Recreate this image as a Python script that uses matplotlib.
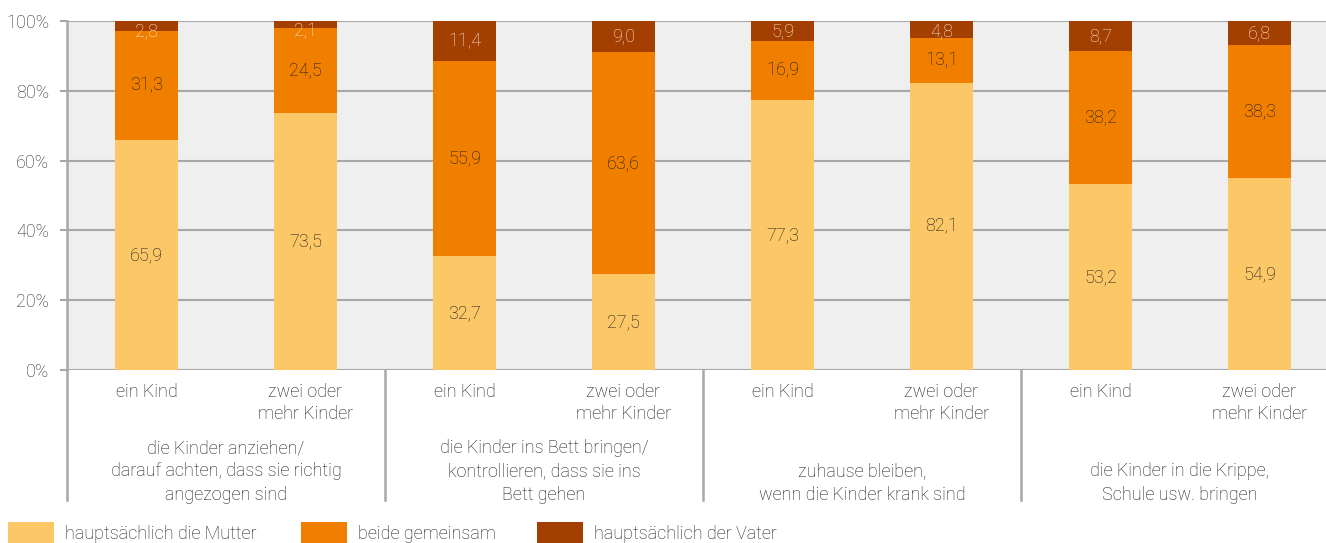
import matplotlib
matplotlib.use("Agg")
import matplotlib.pyplot as plt
from matplotlib.patches import Rectangle
from matplotlib.lines import Line2D
import numpy as np

plt.rcParams['font.family'] = ['Roboto', 'DejaVu Sans']
plt.rcParams['font.weight'] = 'light'

# Daten: Anteile in Prozent
kinder = ["ein Kind", "zwei oder\nmehr Kinder"] * 4
aufgaben = ["die Kinder anziehen/\ndarauf achten, dass sie richtig\nangezogen sind",
            "die Kinder ins Bett bringen/\nkontrollieren, dass sie ins\nBett gehen",
            "zuhause bleiben,\nwenn die Kinder krank sind",
            "die Kinder in die Krippe,\nSchule usw. bringen"]
serien = ["hauptsächlich die Mutter", "beide gemeinsam", "hauptsächlich der Vater"]
mutter = [65.9, 73.5, 32.7, 27.5, 77.3, 82.1, 53.2, 54.9]
beide = [31.3, 24.5, 55.9, 63.6, 16.9, 13.1, 38.2, 38.3]
vater = [2.8, 2.1, 11.4, 9.0, 5.9, 4.8, 8.7, 6.8]
yticks = [0, 20, 40, 60, 80, 100]

farben = ["#fcc767", "#f07f00", "#a33f00"]
textfarben = ["#1a1a1a", "#1a1a1a", "#f6e6da"]
grau = "#a8a8a8"
dunkel = "#1a1a1a"
fs = 13

W, H = 1326, 543
fig = plt.figure(figsize=(W / 100, H / 100), dpi=100)
# rechter Rand der Achse liegt etwas außerhalb des Bildes
ax = fig.add_axes([67 / W, 1 - 370 / H, (1339 - 67) / W, (370 - 21) / H])
ax.set_facecolor("#efefef")

x = np.arange(len(mutter))
unten = np.zeros(len(mutter))
for werte, farbe, tf in zip([mutter, beide, vater], farben, textfarben):
    werte = np.array(werte)
    ax.bar(x, werte, width=0.4, bottom=unten, color=farbe, zorder=3)
    for xi, b, v in zip(x, unten, werte):
        # Beschriftung nicht über den oberen Rand schieben
        yl = min(b + v / 2, 97.0)
        ax.text(xi, yl, f"{v:.1f}".replace(".", ","), ha="center", va="center",
                fontsize=fs, color=tf, zorder=4)
    unten = unten + werte

ax.set_xlim(-0.5, len(mutter) - 0.5)
ax.set_ylim(0, 100)
ax.set_yticks(yticks)
ax.set_yticklabels([f"{t}%" for t in yticks], fontsize=fs, color="#2a2a2a")
ax.tick_params(axis="y", length=5, width=1.5, color=grau, pad=8)
ax.set_xticks([])
ax.yaxis.grid(True, color=grau, linewidth=1.5, zorder=1)
ax.set_axisbelow(True)
for s in ["top", "right", "bottom"]:
    ax.spines[s].set_visible(False)
ax.spines["left"].set_color(grau)
ax.spines["left"].set_linewidth(1.8)

# Kategorien unter der Achse
trans = ax.get_xaxis_transform()
for xi, lab in zip(x, kinder):
    ax.text(xi, -0.037, lab, transform=trans, ha="center", va="top", fontsize=fs,
            color=dunkel, linespacing=1.3, clip_on=False)

for i, lab in enumerate(aufgaben):
    ax.text(2 * i + 0.5, -0.383, lab, transform=trans, ha="center", va="bottom",
            fontsize=fs, color=dunkel, linespacing=1.38, multialignment="center",
            clip_on=False)

# Trennlinien zwischen den Gruppen
for g in range(len(aufgaben) + 1):
    ax.add_line(Line2D([2 * g - 0.5] * 2, [0, -0.373], transform=trans, color=grau,
                       linewidth=1.8, clip_on=False))

# Legende
leg_x = [8, 301, 537]
for lx, farbe, name in zip(leg_x, farben, serien):
    fig.patches.append(Rectangle((lx / W, 0), 46 / W, 21 / H, transform=fig.transFigure,
                                 facecolor=farbe, edgecolor="none"))
    fig.text((lx + 57) / W, 1 - 534 / H, name, ha="left", va="center", fontsize=fs,
             color=dunkel)

fig.savefig("out.png", dpi=100)
